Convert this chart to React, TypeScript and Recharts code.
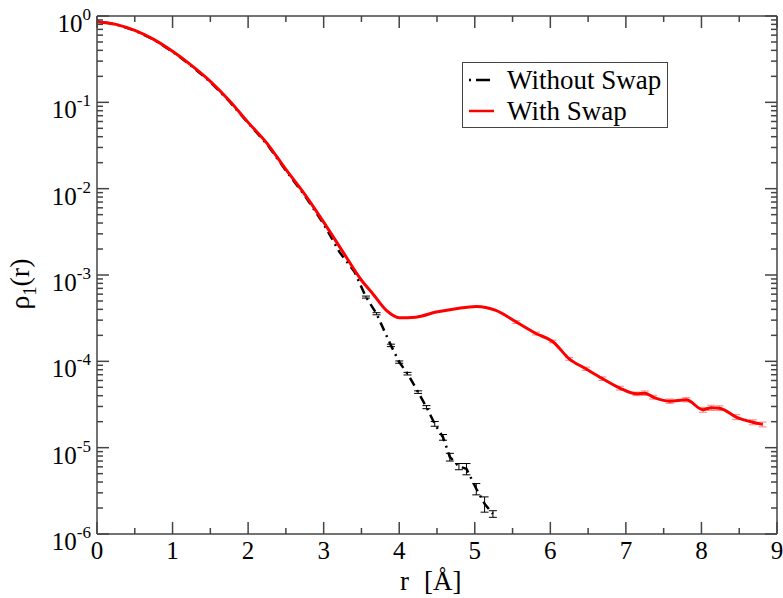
import { LineChart, Line, XAxis, YAxis, ErrorBar } from 'recharts';

const FONT = "'Liberation Serif', 'Times New Roman', Times, serif";
const AXIS = '#444';

// Without swap (black, dash-dot)
const rBlack = [0, 0.25, 0.5, 0.75, 1, 1.25, 1.5, 1.75, 2, 2.25, 2.5, 2.75, 3, 3.21, 3.41, 3.56, 3.7, 3.89, 4, 4.11, 4.25, 4.36, 4.47, 4.58, 4.67, 4.79, 4.89, 5.02, 5.13, 5.24];
const rhoBlack = [0.87, 0.8, 0.68, 0.535, 0.386, 0.264, 0.172, 0.103, 0.0575, 0.0327, 0.0162, 0.0083, 0.0039, 0.00184, 0.00108, 5.55e-4, 3.56e-4, 1.53e-4, 9.8e-5, 7.2e-5, 4.4e-5, 2.95e-5, 1.89e-5, 1.32e-5, 7.8e-6, 6.05e-6, 5.7e-6, 3.34e-6, 2.24e-6, 1.71e-6];
const errBlack = [0, 0, 0, 0, 0, 0, 0, 0, 0, 0, 0, 0, 0, 0, 0, 1.5e-5, 1e-5, 5e-6, 3e-6, 2.5e-6, 1.5e-6, 1.2e-6, 1.2e-6, 1e-6, 8e-7, 5e-7, 8.5e-7, 5e-7, 4.5e-7, 1.5e-7];

// With swap (red)
const rRed = [0, 0.25, 0.5, 0.75, 1, 1.25, 1.5, 1.75, 2, 2.25, 2.5, 2.75, 3, 3.25, 3.5, 3.65, 3.83, 4, 4.22, 4.49, 4.75, 5.02, 5.28, 5.55, 5.81, 6.03, 6.25, 6.47, 6.69, 6.92, 7.14, 7.25, 7.36, 7.58, 7.8, 8.02, 8.13, 8.24, 8.46, 8.68, 8.81];
const rhoRed = [0.86, 0.8, 0.68, 0.537, 0.39, 0.268, 0.175, 0.105, 0.0586, 0.0335, 0.0167, 0.0086, 0.0041, 0.00188, 8.7e-4, 6.07e-4, 3.89e-4, 3.2e-4, 3.25e-4, 3.72e-4, 4.07e-4, 4.33e-4, 3.89e-4, 2.85e-4, 2.1e-4, 1.7e-4, 1.07e-4, 8.2e-5, 6.3e-5, 4.9e-5, 4.2e-5, 4.28e-5, 3.85e-5, 3.46e-5, 3.59e-5, 2.75e-5, 2.9e-5, 2.87e-5, 2.26e-5, 1.97e-5, 1.86e-5];
const errRed = [0, 0, 0, 0, 0, 0, 0, 0, 0, 0, 0, 0, 0, 0, 0, 0, 0, 0, 0, 0, 0, 0, 0, 1e-5, 8e-6, 6e-6, 4e-6, 3.5e-6, 3e-6, 2.5e-6, 2e-6, 2.5e-6, 2e-6, 2e-6, 2e-6, 1.8e-6, 2e-6, 1.8e-6, 1.5e-6, 1.3e-6, 1.2e-6];

const xTicks = [0, 0.5, 1, 1.5, 2, 2.5, 3, 3.5, 4, 4.5, 5, 5.5, 6, 6.5, 7, 7.5, 8, 8.5, 9];
const decades = [-6, -5, -4, -3, -2, -1, 0];
const mantissas = [1, 2, 3, 4, 5, 6, 7, 8, 9];
const yTicks = decades.flatMap(d => mantissas.map(m => m * 10 ** d)).filter(v => v <= 1.0000001);

const blackData = rBlack.map((r, i) => ({ r, rho: rhoBlack[i], err: errBlack[i] }));
const redData = rRed.map((r, i) => ({ r, rho: rhoRed[i], err: errRed[i] }));

const isDecade = (v: number) => Math.abs(Math.log10(v) - Math.round(Math.log10(v))) < 1e-6;

const BottomTick = (props: any) => {
  const { x, y, payload } = props;
  const v = payload.value;
  const major = Number.isInteger(v);
  return (
    <g>
      <line x1={x} x2={x} y1={y} y2={y - (major ? 12 : 6)} stroke={AXIS} strokeWidth={1.5} />
      {major && (
        <text x={x} y={y + 25} textAnchor="middle" fontFamily={FONT} fontSize={25} fill="#000">{v}</text>
      )}
    </g>
  );
};

const TopTick = (props: any) => {
  const { x, y, payload } = props;
  const major = Number.isInteger(payload.value);
  return <line x1={x} x2={x} y1={y} y2={y + (major ? 12 : 6)} stroke={AXIS} strokeWidth={1.5} />;
};

const LeftTick = (props: any) => {
  const { x, y, payload } = props;
  const v = payload.value;
  const major = isDecade(v);
  return (
    <g>
      <line x1={x} x2={x + (major ? 12 : 6)} y1={y} y2={y} stroke={AXIS} strokeWidth={1.5} />
      {major && (
        <text x={x - 6} y={y + 16} textAnchor="end" fontFamily={FONT} fontSize={25} fill="#000">
          10<tspan dy={-12} fontSize={17}>{Math.round(Math.log10(v))}</tspan>
        </text>
      )}
    </g>
  );
};

const RightTick = (props: any) => {
  const { x, y, payload } = props;
  const major = isDecade(payload.value);
  return <line x1={x} x2={x - (major ? 12 : 6)} y1={y} y2={y} stroke={AXIS} strokeWidth={1.5} />;
};

const YTitle = () => (
  <text x={0} y={0} transform="translate(29, 284) rotate(-90)" textAnchor="middle" fontFamily={FONT} fontSize={28} fill="#000">
    ρ<tspan dy={7} fontSize={18}>1</tspan><tspan dy={-7} fontSize={28}>(r)</tspan>
  </text>
);

const XTitle = () => (
  <text y={590} fontFamily={FONT} fontSize={27} fill="#000">
    <tspan x={400}>r</tspan>
    <tspan x={424}>[Å]</tspan>
  </text>
);

const ChartLegend = () => (
  <div
    style={{
      position: 'absolute',
      left: 462,
      top: 62,
      width: 206,
      height: 66,
      boxSizing: 'border-box',
      border: `1.5px solid ${AXIS}`,
      background: '#fff',
      fontFamily: FONT,
      fontSize: 27,
      color: '#000',
      lineHeight: '30px',
      paddingTop: 1,
    }}
  >
    <div style={{ display: 'flex', alignItems: 'center', height: 31 }}>
      <svg width={44} height={10}>
        <line x1={6} x2={28} y1={5} y2={5} stroke="#000" strokeWidth={2.5} strokeDasharray="2 5 14 40" />
      </svg>
      <span>Without Swap</span>
    </div>
    <div style={{ display: 'flex', alignItems: 'center', height: 31 }}>
      <svg width={44} height={10}>
        <line x1={6} x2={31} y1={5} y2={5} stroke="#ff0000" strokeWidth={2.5} />
      </svg>
      <span>With Swap</span>
    </div>
  </div>
);

export default function App() {
  return (
    <div style={{ position: 'absolute', left: 0, top: 0, width: 783, height: 598, background: '#fff' }}>
      <LineChart width={783} height={598} margin={{ top: 0, right: 0, bottom: 0, left: 0 }}>
        <XAxis
          xAxisId="bottom"
          dataKey="r"
          type="number"
          domain={[0, 9]}
          ticks={xTicks}
          interval={0}
          allowDataOverflow
          height={64}
          tickSize={0}
          tickMargin={0}
          tickLine={false}
          axisLine={{ stroke: AXIS, strokeWidth: 1.5 }}
          tick={<BottomTick />}
          label={<XTitle />}
        />
        <XAxis
          xAxisId="top"
          orientation="top"
          dataKey="r"
          type="number"
          domain={[0, 9]}
          ticks={xTicks}
          interval={0}
          allowDataOverflow
          height={16}
          tickSize={0}
          tickMargin={0}
          tickLine={false}
          axisLine={{ stroke: AXIS, strokeWidth: 1.5 }}
          tick={<TopTick />}
        />
        <YAxis
          yAxisId="left"
          type="number"
          scale="log"
          domain={[1e-6, 1]}
          ticks={yTicks}
          interval={0}
          allowDataOverflow
          width={97}
          tickSize={0}
          tickMargin={0}
          tickLine={false}
          axisLine={{ stroke: AXIS, strokeWidth: 1.5 }}
          tick={<LeftTick />}
          label={<YTitle />}
        />
        <YAxis
          yAxisId="right"
          orientation="right"
          type="number"
          scale="log"
          domain={[1e-6, 1]}
          ticks={yTicks}
          interval={0}
          allowDataOverflow
          width={6}
          tickSize={0}
          tickMargin={0}
          tickLine={false}
          axisLine={{ stroke: AXIS, strokeWidth: 1.5 }}
          tick={<RightTick />}
        />
        <Line
          data={blackData}
          xAxisId="bottom"
          yAxisId="left"
          dataKey="rho"
          type="linear"
          stroke="#000"
          strokeWidth={2.5}
          strokeDasharray="2 5 9 5"
          dot={false}
          isAnimationActive={false}
        >
          <ErrorBar dataKey="err" direction="y" width={4} stroke="#000" strokeWidth={1} />
        </Line>
        <Line
          data={redData}
          xAxisId="bottom"
          yAxisId="left"
          dataKey="rho"
          type="monotone"
          stroke="#ff0000"
          strokeWidth={3}
          dot={false}
          isAnimationActive={false}
        >
          <ErrorBar dataKey="err" direction="y" width={4} stroke="#ff8080" strokeWidth={1} />
        </Line>
      </LineChart>
      <ChartLegend />
    </div>
  );
}
